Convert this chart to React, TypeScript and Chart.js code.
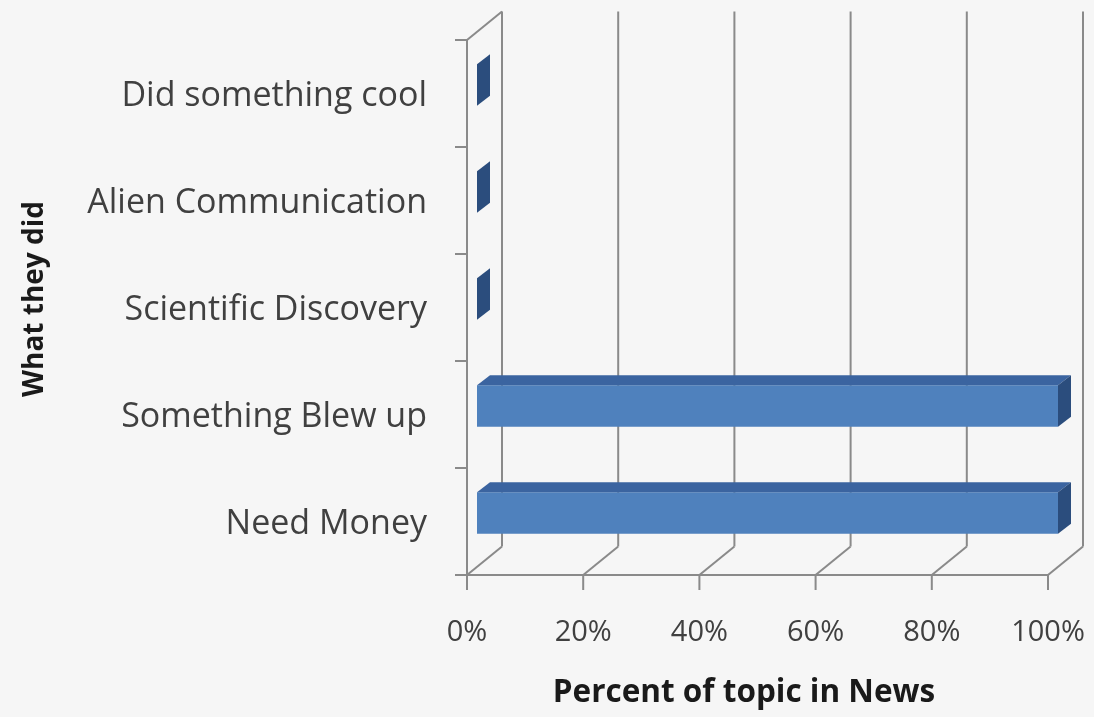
import React, { useEffect, useRef } from "react";
import { Chart, registerables } from "chart.js";

Chart.register(...registerables);

const categories = [
  "Did something cool",
  "Alien Communication",
  "Scientific Discovery",
  "Something Blew up",
  "Need Money",
];
const percentValues = [0, 0, 0, 100, 100];
const xTickValues = [0, 20, 40, 60, 80, 100];
const xTitle = "Percent of topic in News";
const yTitle = "What they did";

const W = 1094;
const H = 717;
const FRONT = { dx: -10, dy: 8.5 }; // front plane relative to bar plane
const BACK = { dx: 25, dy: -20 }; // back wall relative to bar plane
const BAR_DEPTH = { dx: 13, dy: -10 };
const LINE = "#8a8a8a";

const threeD = {
  id: "threeD",
  beforeDraw(chart: any) {
    const { ctx } = chart;
    ctx.save();
    ctx.fillStyle = "#f6f6f6";
    ctx.fillRect(0, 0, chart.width, chart.height);
    ctx.restore();
  },
  beforeDatasetsDraw(chart: any) {
    const { ctx, chartArea } = chart;
    const xs = chart.scales.x;
    const top = chartArea.top;
    const bottom = chartArea.bottom;
    ctx.save();
    ctx.strokeStyle = LINE;
    ctx.lineWidth = 2;
    ctx.lineCap = "butt";
    const line = (x1: number, y1: number, x2: number, y2: number) => {
      ctx.beginPath();
      ctx.moveTo(x1, y1);
      ctx.lineTo(x2, y2);
      ctx.stroke();
    };
    const frontBottom = bottom + FRONT.dy;
    const backBottom = bottom + BACK.dy;
    const backTop = top + BACK.dy;
    xTickValues.forEach((v) => {
      const px = xs.getPixelForValue(v);
      const xb = px + BACK.dx;
      const xf = px + FRONT.dx;
      line(xb, backTop, xb, backBottom);
      line(xf, frontBottom, xb, backBottom);
      line(xf, frontBottom, xf, frontBottom + 15);
    });
    const fl = xs.getPixelForValue(0) + FRONT.dx;
    const fr = xs.getPixelForValue(100) + FRONT.dx;
    line(fl - 12, frontBottom, fr, frontBottom);
    const frontTop = top + FRONT.dy;
    line(fl, frontTop, fl, frontBottom);
    line(fl, frontTop, xs.getPixelForValue(0) + BACK.dx, backTop);
    const n = categories.length;
    const step = (bottom - top) / n;
    for (let i = 0; i <= n; i++) {
      const y = top + i * step + FRONT.dy;
      line(fl - 12, y, fl, y);
    }
    ctx.restore();
  },
  afterDatasetsDraw(chart: any) {
    const { ctx } = chart;
    const meta = chart.getDatasetMeta(0);
    ctx.save();
    meta.data.forEach((bar: any) => {
      const { x, y, base, height } = bar.getProps(["x", "y", "base", "height"], true);
      const t = y - height / 2;
      const b = y + height / 2;
      ctx.fillStyle = "#3b64a0";
      ctx.beginPath();
      ctx.moveTo(base, t);
      ctx.lineTo(x, t);
      ctx.lineTo(x + BAR_DEPTH.dx, t + BAR_DEPTH.dy);
      ctx.lineTo(base + BAR_DEPTH.dx, t + BAR_DEPTH.dy);
      ctx.closePath();
      ctx.fill();
      ctx.fillStyle = "#2b4d7d";
      ctx.beginPath();
      ctx.moveTo(x, t);
      ctx.lineTo(x + BAR_DEPTH.dx, t + BAR_DEPTH.dy);
      ctx.lineTo(x + BAR_DEPTH.dx, b + BAR_DEPTH.dy);
      ctx.lineTo(x, b);
      ctx.closePath();
      ctx.fill();
    });
    ctx.restore();
  },
  afterDraw(chart: any) {
    const { ctx } = chart;
    ctx.save();
    ctx.fillStyle = "#1a1a1a";
    ctx.font = "bold 31.5px 'Open Sans'";
    ctx.textAlign = "center";
    ctx.textBaseline = "middle";
    ctx.fillText(xTitle, 744, 693);
    ctx.restore();
  },
};

export default function App() {
  const ref = useRef<HTMLCanvasElement | null>(null);
  useEffect(() => {
    document.body.style.margin = "0";
    const canvas = ref.current!;
    const chart = new Chart(canvas, {
      type: "bar",
      data: {
        labels: categories,
        datasets: [
          {
            data: percentValues,
            backgroundColor: "#4f81bd",
            borderWidth: 0,
            barPercentage: 0.39,
            categoryPercentage: 1,
          },
        ],
      },
      options: {
        indexAxis: "y",
        responsive: false,
        animation: false,
        events: [],
        layout: { padding: { top: 31.5, right: 36, left: 0, bottom: 0 } },
        plugins: { legend: { display: false }, tooltip: { enabled: false } },
        scales: {
          x: {
            min: 0,
            max: 100,
            grid: { display: false, drawTicks: false },
            border: { display: false },
            afterFit: (s: any) => {
              s.height = 150.5;
              s.paddingLeft = 0;
              s.paddingRight = 0;
            },
            ticks: {
              stepSize: 20,
              callback: (v: any) => v + "%",
              font: { family: "'Open Sans'", size: 29 },
              color: "#404040",
              padding: 49,
              labelOffset: -10,
              maxRotation: 0,
              autoSkip: false,
            },
          },
          y: {
            grid: { display: false, drawTicks: false },
            border: { display: false },
            afterFit: (s: any) => {
              s.width = 477;
              s.paddingTop = 0;
              s.paddingBottom = 0;
            },
            ticks: {
              font: { family: "'Open Sans'", size: 34 },
              color: "#404040",
              padding: 50,
              labelOffset: 11.5,
              autoSkip: false,
            },
            title: {
              display: true,
              text: yTitle,
              font: { family: "'Open Sans'", size: 28, weight: "bold" },
              color: "#1a1a1a",
              padding: { top: 18, bottom: 0 },
            },
          },
        },
      },
      plugins: [threeD],
    });
    return () => chart.destroy();
  }, []);
  return (
    <div style={{ position: "fixed", left: 0, top: 0, width: W, height: H, background: "#f6f6f6" }}>
      <canvas ref={ref} width={W} height={H} style={{ display: "block" }} />
    </div>
  );
}
